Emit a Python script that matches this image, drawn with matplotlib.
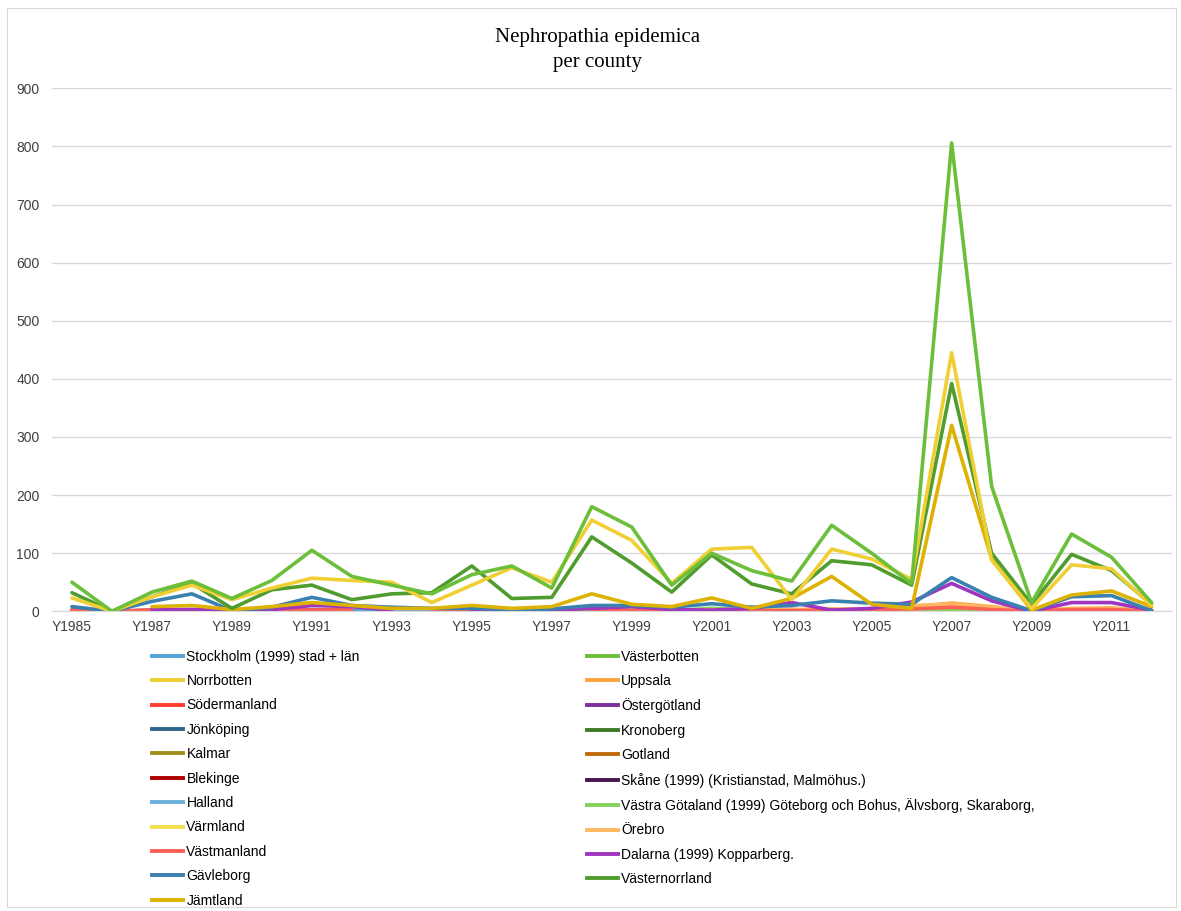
import matplotlib.pyplot as plt
import numpy as np
from matplotlib.lines import Line2D
from matplotlib.patches import Rectangle

nan = np.nan
years = ['Y%d' % y for y in range(1985, 2013)]

counties = [
    'Stockholm (1999) stad + län', 'Västerbotten', 'Norrbotten', 'Uppsala',
    'Södermanland', 'Östergötland', 'Jönköping', 'Kronoberg', 'Kalmar',
    'Gotland', 'Blekinge', 'Skåne (1999) (Kristianstad, Malmöhus.)', 'Halland',
    'Västra Götaland (1999) Göteborg och Bohus, Älvsborg, Skaraborg,',
    'Värmland', 'Örebro', 'Västmanland', 'Dalarna (1999) Kopparberg.',
    'Gävleborg', 'Västernorrland', 'Jämtland',
]
colors = [
    '#4FA3D8', '#6CBF3A', '#F0CF35', '#FFA23A', '#FF3B30', '#7A2F99',
    '#2D6688', '#3E7A27', '#A08F1C', '#C06A0B', '#B00000', '#4A1550',
    '#6BB0DC', '#84D05A', '#F5DE50', '#FFB860', '#FF6055', '#A035C0',
    '#3A80B0', '#519C2E', '#DDB200',
]

# cases per year, 1985-2012
stockholm = [3, 0, 2, 3, 1, 2, 3, 2, 1, 1, 2, 1, 2, 3, 2, 1, 4, 2, 2, 3, 2, 2, 6, 3, 0, 2, 2, 1]
vasterbotten = [50, 0, 33, 52, 22, 53, 105, 60, 45, 30, 63, 78, 40, 180, 145, 45, 100, 70,
                52, 148, 100, 48, 806, 215, 15, 133, 93, 15]
norrbotten = [23, 0, 25, 45, 20, 40, 57, 53, 50, 15, 45, 75, 50, 157, 122, 48, 107, 110,
              20, 107, 90, 55, 445, 88, 5, 80, 73, 10]
uppsala = [nan, nan, nan, nan, nan, nan, nan, nan, nan, nan, nan, nan, nan, 1, 1, 0, 1, 1,
           2, 2, 3, 8, 14, 8, 1, 4, 5, 1]
sodermanland = [2, 0, 2, 2, 1, 2, 2, 2, nan, nan, nan, nan, nan, nan, nan, nan, nan, nan,
                1, 1, 1, 2, 4, 2, 0, 2, 2, 0]
ostergotland = [nan, nan, nan, nan, nan, nan, nan, nan, nan, nan, nan, nan, nan, 2, 3, 1,
                1, 2, 3, 1, 2, 3, 5, 3, 0, 2, 2, 1]
jonkoping = [nan, nan, nan, nan, nan, nan, nan, nan, nan, nan, nan, nan, nan, 1, 2, 1, 2,
             1, 2, 2, 1, 2, 4, 2, 0, 2, 2, 1]
kronoberg = [nan, nan, nan, nan, nan, nan, nan, nan, nan, nan, nan, nan, nan, 1, 1, 0, 1,
             1, 1, 1, 1, 1, 3, 1, 0, 1, 1, 0]
kalmar = [nan, nan, nan, nan, nan, nan, nan, nan, nan, nan, nan, nan, nan, 0, 1, 0, 1, 0,
          1, 1, 1, 1, 2, 1, 0, 1, 1, 0]
gotland = [nan, nan, nan, nan, nan, nan, nan, nan, nan, nan, nan, nan, nan, 0, 0, 0, 0, 0,
           0, 0, 0, 0, 1, 0, 0, 0, 0, 0]
blekinge = [nan, nan, nan, nan, nan, nan, nan, nan, nan, nan, nan, nan, nan, 0, 0, 0, 0, 0,
            0, 0, 0, 0, 1, 0, 0, 0, 0, 0]
skane = [nan, nan, nan, nan, nan, nan, nan, nan, nan, nan, nan, nan, nan, nan, 0, 0, 0, 0,
         0, 0, 1, 0, 2, 0, 0, 1, 4, 0]
halland = [nan, nan, nan, nan, nan, nan, nan, nan, 2, 1, 3, 2, 1, 1, 1, 0, 1, 1,
           1, 1, 1, 1, 2, 1, 0, 1, 1, 0]
vastra_gotaland = [nan, nan, nan, nan, nan, nan, nan, nan, nan, 1, 2, 1, 1, 2, 1, 1, 5, 2,
                   1, 1, 2, 2, 3, 2, 0, 2, 2, 1]
varmland = [nan, nan, nan, nan, nan, nan, nan, nan, nan, nan, nan, nan, nan, 1, 2, 1, 2, 1,
            2, 3, 2, 4, 8, 4, 0, 3, 3, 1]
orebro = [nan, nan, nan, nan, nan, nan, nan, nan, nan, nan, nan, nan, nan, 1, 2, 1, 2, 2,
          3, 4, 4, 10, 12, 7, 1, 5, 6, 1]
vastmanland = [2, 0, 2, 2, 1, 2, 2, 2, nan, 1, 1, nan, nan, 1, 1, 0, 1, 1,
               1, 2, 3, 4, 7, 3, 0, 3, 3, 0]
dalarna = [nan, nan, 3, 3, 1, 3, 10, 8, 2, nan, 2, 2, 2, 5, 8, 3, 2, 5,
           15, 2, 5, 16, 48, 18, 0, 15, 15, 2]
gavleborg = [8, 0, 17, 30, 1, 7, 24, 10, 7, 5, 5, 3, 4, 10, 10, 7, 13, 7,
             10, 18, 14, 12, 58, 24, 1, 25, 27, 1]
vasternorrland = [32, 0, 25, 48, 5, 37, 45, 20, 30, 32, 78, 22, 24, 128, 83, 33, 97, 47,
                  30, 87, 80, 45, 392, 100, 12, 98, 70, 12]
jamtland = [nan, nan, 8, 10, 3, 8, 15, 10, 5, 5, 10, 5, 8, 30, 12, 8, 23, 5,
            22, 60, 12, 5, 320, 90, 2, 28, 35, 8]

series = [stockholm, vasterbotten, norrbotten, uppsala, sodermanland, ostergotland,
          jonkoping, kronoberg, kalmar, gotland, blekinge, skane, halland,
          vastra_gotaland, varmland, orebro, vastmanland, dalarna, gavleborg,
          vasternorrland, jamtland]

plt.rcParams['font.family'] = ['Liberation Sans', 'DejaVu Sans']

fig = plt.figure(figsize=(11.81, 9.11), dpi=100)
fig.patches.append(Rectangle((0.006, 0.004), 0.99, 0.987, transform=fig.transFigure,
                             fill=False, edgecolor='#D9D9D9', linewidth=0.8))
ax = fig.add_axes([0.044, 0.329, 0.948, 0.574])

x = np.arange(len(years))
# big series drawn last so they sit on top
draw_order = [0, 3, 4, 5, 6, 7, 8, 9, 10, 11, 12, 13, 14, 15, 16, 17, 18, 20, 19, 2, 1]
for i in draw_order:
    ax.plot(x, series[i], color=colors[i], lw=2.6, solid_capstyle='round',
            solid_joinstyle='round')

ax.set_xlim(-0.5, len(years) - 0.5)
ax.set_ylim(0, 900)
ax.set_yticks(np.arange(0, 901, 100))
ax.set_xticks(x[::2])
ax.set_xticklabels(years[::2])
ax.tick_params(length=0, labelsize=10, colors='#404040')
ax.tick_params(axis='y', pad=9)
ax.tick_params(axis='x', pad=6)
ax.grid(axis='y', color='#D9D9D9', lw=1)
ax.set_axisbelow(True)
for side in ['top', 'right', 'left']:
    ax.spines[side].set_visible(False)
ax.spines['bottom'].set_color('#D9D9D9')

fig.text(0.506, 0.959, 'Nephropathia epidemica', ha='center', va='center',
         fontsize=15, family='Liberation Serif')
fig.text(0.506, 0.931, 'per county', ha='center', va='center',
         fontsize=15, family='Liberation Serif')

handles = [Line2D([], [], color=c, lw=2.8) for c in colors]
for col, x0 in [(0, 0.129), (1, 0.497)]:
    idx = list(range(col, len(counties), 2))
    fig.legend([handles[i] for i in idx], [counties[i] for i in idx],
               loc='upper left', bbox_to_anchor=(x0, 0.287), frameon=False,
               fontsize=10, handlelength=2.2, handletextpad=0.25,
               labelspacing=0.75, borderpad=0, borderaxespad=0)

fig.savefig('out.png', dpi=100)
